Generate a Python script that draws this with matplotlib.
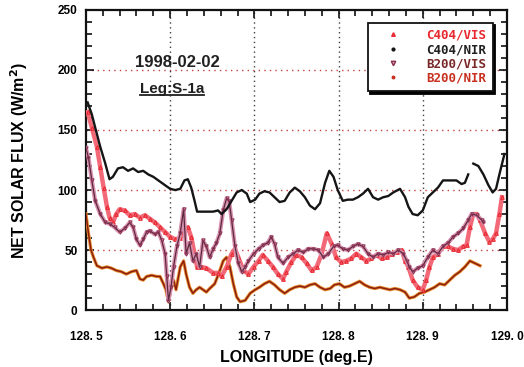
import matplotlib
matplotlib.use("Agg")
import matplotlib.pyplot as plt
from matplotlib.lines import Line2D
from matplotlib.ticker import MultipleLocator, FuncFormatter
import numpy as np

plt.rcParams['font.family'] = ['Liberation Sans', 'DejaVu Sans']

# ---- data: net solar flux (W/m^2) vs longitude (deg E) ----
lon_c404_vis = [128.502, 128.507, 128.513, 128.517, 128.521, 128.525, 128.528, 128.532, 128.536, 128.540,
                128.546, 128.552, 128.558, 128.564, 128.570, 128.576, 128.582, 128.588, 128.594, 128.600,
                128.606, 128.612, 128.617, 128.621, 128.625, 128.629, 128.632, 128.637, 128.643, 128.651,
                128.657, 128.661, 128.667, 128.673, 128.677, 128.681, 128.687, 128.693, 128.699, 128.705,
                128.710, 128.716, 128.722, 128.728, 128.734, 128.738, 128.744, 128.750, 128.756, 128.762,
                128.768, 128.774, 128.780, 128.786, 128.792, 128.797, 128.803, 128.809, 128.815, 128.821,
                128.827, 128.833, 128.839, 128.845, 128.851, 128.857, 128.863, 128.869, 128.875, 128.879,
                128.883, 128.888, 128.894, 128.900, 128.904, 128.908, 128.912, 128.918, 128.924, 128.930,
                128.936, 128.942, 128.948, 128.952, 128.956, 128.960, 128.964, 128.968, 128.974, 128.979,
                128.983, 128.987, 128.991, 128.994]
flux_c404_vis = [165, 152, 136, 119, 102, 86, 77, 73, 80, 84,
                 83, 79, 80, 77, 79, 76, 73, 69, 65, 61,
                 59, 60, 65, 69, 61, 47, 36, 36, 35, 31,
                 31, 28, 36, 47, 51, 44, 33, 30, 36, 41,
                 46, 41, 36, 30, 26, 32, 40, 46, 44, 39,
                 33, 36, 47, 64, 55, 44, 40, 41, 43, 47,
                 44, 41, 43, 46, 43, 44, 47, 48, 50, 41,
                 36, 25, 19, 17, 25, 36, 44, 47, 53, 53,
                 51, 50, 53, 54, 69, 80, 80, 75, 64, 57,
                 59, 64, 80, 94]

lon_c404_nir = [128.502, 128.507, 128.511, 128.517, 128.523, 128.528, 128.532, 128.538, 128.544,
                128.550, 128.556, 128.562, 128.568, 128.574, 128.580, 128.586, 128.592, 128.600, 128.606,
                128.612, 128.617, 128.621, 128.625, 128.629, 128.632, 128.637, 128.643, 128.651, 128.657,
                128.661, 128.667, 128.673, 128.679, 128.685, 128.691, 128.695, 128.701, 128.706, 128.712,
                128.718, 128.724, 128.730, 128.736, 128.742, 128.748, 128.754, 128.760, 128.766, 128.772,
                128.778, 128.784, 128.789, 128.794, 128.799, 128.805, 128.811, 128.817, 128.823, 128.829,
                128.835, 128.841, 128.847, 128.853, 128.859, 128.865, 128.873, 128.879, 128.883, 128.888,
                128.894, 128.900, 128.906, 128.912, 128.918, 128.924, 128.932, 128.940, 128.946, 128.950,
                128.954, 128.957, 128.960, 128.966, 128.972, 128.978, 128.983, 128.987, 128.991, 128.997]
flux_c404_nir = [173, 163, 152, 136, 122, 109, 111, 118, 119,
                 116, 118, 115, 116, 113, 111, 108, 105, 101, 100,
                 101, 108, 109, 102, 91, 82, 82, 82, 82, 83,
                 80, 84, 91, 98, 100, 97, 90, 92, 97, 99,
                 98, 94, 90, 91, 98, 102, 99, 94, 87, 84,
                 89, 106, 116, 111, 100, 91, 92, 92, 94, 97,
                 101, 94, 92, 94, 95, 98, 101, 94, 86, 80,
                 79, 83, 94, 98, 102, 108, 108, 108, 105, 106,
                 113, np.nan, 122, 120, 113, 104, 98, 101, 113, 130]

lon_b200_vis = [128.500, 128.503, 128.507, 128.511, 128.517, 128.523, 128.528, 128.534, 128.540, 128.546,
                128.552, 128.556, 128.560, 128.564, 128.568, 128.572, 128.576, 128.582, 128.586, 128.590,
                128.594, 128.596, 128.598, 128.601, 128.604, 128.608, 128.612, 128.616, 128.619, 128.623,
                128.627, 128.631, 128.635, 128.639, 128.643, 128.647, 128.651, 128.655, 128.659, 128.663,
                128.667, 128.670, 128.673, 128.677, 128.681, 128.685, 128.689, 128.693, 128.699, 128.705,
                128.710, 128.716, 128.720, 128.724, 128.728, 128.734, 128.740, 128.746, 128.752, 128.758,
                128.764, 128.770, 128.776, 128.782, 128.788, 128.794, 128.799, 128.805, 128.811, 128.817,
                128.823, 128.829, 128.835, 128.841, 128.847, 128.853, 128.859, 128.865, 128.871, 128.877,
                128.881, 128.884, 128.888, 128.894, 128.900, 128.906, 128.912, 128.918, 128.924, 128.930,
                128.936, 128.942, 128.948, 128.954, 128.958, 128.964, 128.970, 128.972]
flux_b200_vis = [135, 127, 108, 91, 80, 73, 72, 69, 65, 68,
                 73, 69, 59, 54, 59, 65, 66, 63, 65, 58,
                 47, 28, 8, 19, 36, 53, 64, 84, 47, 56,
                 41, 47, 36, 58, 53, 44, 51, 56, 64, 83,
                 93, 91, 75, 53, 39, 32, 36, 41, 47, 51,
                 54, 56, 61, 55, 44, 39, 44, 47, 50, 48,
                 51, 51, 50, 44, 47, 53, 54, 51, 50, 53,
                 55, 53, 47, 44, 47, 46, 48, 47, 50, 47,
                 41, 36, 32, 35, 37, 44, 50, 47, 53, 56,
                 61, 64, 68, 75, 80, 79, 75, 73]

lon_b200_nir = [128.500, 128.503, 128.506, 128.509, 128.513, 128.519, 128.525, 128.530, 128.536, 128.542,
                128.548, 128.554, 128.560, 128.564, 128.568, 128.572, 128.578, 128.584, 128.588, 128.592,
                128.595, 128.598, 128.601, 128.604, 128.607, 128.612, 128.616, 128.619, 128.623, 128.627,
                128.631, 128.635, 128.639, 128.643, 128.647, 128.653, 128.659, 128.663, 128.667, 128.671,
                128.675, 128.679, 128.683, 128.689, 128.695, 128.701, 128.706, 128.712, 128.718, 128.724,
                128.730, 128.736, 128.742, 128.748, 128.754, 128.760, 128.766, 128.772, 128.778, 128.784,
                128.790, 128.795, 128.801, 128.807, 128.813, 128.819, 128.825, 128.831, 128.837, 128.843,
                128.849, 128.855, 128.861, 128.867, 128.873, 128.879, 128.884, 128.890, 128.896, 128.902,
                128.908, 128.914, 128.920, 128.926, 128.932, 128.938, 128.944, 128.950, 128.956, 128.962,
                128.968]
flux_b200_nir = [80, 64, 50, 44, 37, 35, 36, 35, 33, 32,
                 30, 32, 33, 26, 25, 28, 29, 28, 28, 22,
                 17, 7, 19, 25, 17, 36, 41, 30, 19, 14,
                 17, 19, 17, 15, 18, 22, 33, 41, 44, 36,
                 22, 11, 7, 8, 14, 17, 19, 22, 24, 21,
                 17, 14, 17, 19, 20, 19, 21, 22, 19, 17,
                 18, 21, 22, 19, 20, 22, 24, 21, 19, 18,
                 19, 18, 17, 18, 17, 15, 10, 11, 14, 15,
                 17, 19, 22, 21, 25, 29, 32, 36, 41, 39,
                 37]

series_names = ["C404/VIS", "C404/NIR", "B200/VIS", "B200/NIR"]
x_ticks = [128.5, 128.6, 128.7, 128.8, 128.9, 129.0]
y_ticks = [0, 50, 100, 150, 200, 250]

# ---- figure ----
fig = plt.figure(figsize=(5.24, 3.67), dpi=100)
ax = fig.add_axes([0.164, 0.155, 0.8035, 0.818])

# grid: red dotted horizontals, dark dotted verticals
for yv in y_ticks[1:-1]:
    ax.axhline(yv, color='#c84040', ls=(0, (1, 3)), lw=1.0, zorder=1)
for xv in x_ticks[1:-1]:
    ax.axvline(xv, color='#404040', ls=(0, (1, 2.5)), lw=1.0, zorder=1)

# B200/NIR: dark red trace with orange fringe
ax.plot(lon_b200_nir, flux_b200_nir, color='#e89030', lw=2.4, zorder=3, solid_joinstyle='round')
ax.plot(lon_b200_nir, flux_b200_nir, color='#8a1c10', lw=1.1, zorder=4, solid_joinstyle='round')

# C404/VIS: red band of triangles
ax.plot(lon_c404_vis, flux_c404_vis, color='#f26a78', lw=3.2, zorder=5, solid_joinstyle='round')
ax.plot(lon_c404_vis, flux_c404_vis, ls='none', marker='^', ms=2.6, mfc='none',
        mec='#e82830', mew=0.8, zorder=6)

# B200/VIS: mauve band with dark down-triangles
ax.plot(lon_b200_vis, flux_b200_vis, color='#d890b0', lw=3.0, zorder=7, solid_joinstyle='round')
ax.plot(lon_b200_vis, flux_b200_vis, color='#5a2838', lw=0.9, zorder=8, solid_joinstyle='round')
ax.plot(lon_b200_vis, flux_b200_vis, ls='none', marker='v', ms=2.4, mfc='none',
        mec='#8a3050', mew=0.7, zorder=8)

# C404/NIR: black trace
ax.plot(lon_c404_nir, flux_c404_nir, color='#151515', lw=1.7, zorder=9, solid_joinstyle='round')

# ---- axes ----
ax.set_xlim(128.5, 129.0)
ax.set_ylim(0, 250)
ax.set_xticks(x_ticks)
ax.set_yticks(y_ticks)
ax.xaxis.set_minor_locator(MultipleLocator(0.02))
ax.yaxis.set_minor_locator(MultipleLocator(10))
ax.xaxis.set_major_formatter(FuncFormatter(lambda v, _: f"{v:.1f}".replace('.', '. ')))
ax.tick_params(which='both', direction='in', top=True, right=True, width=1.2, color='#111111')
ax.tick_params(which='major', length=6, pad=6, labelsize=8.5)
ax.tick_params(which='minor', length=4)
ax.tick_params(axis='x', which='major', pad=15)
for lab in ax.get_xticklabels() + ax.get_yticklabels():
    lab.set_fontweight('bold')
for sp in ax.spines.values():
    sp.set_linewidth(1.6)
    sp.set_color('#111111')

ax.set_xlabel("LONGITUDE (deg.E)", fontsize=11.5, fontweight='bold', labelpad=5)
ax.set_ylabel("NET SOLAR FLUX (W/m$^\\mathbf{2}$)", fontsize=11.5, fontweight='bold', labelpad=20)

# annotation: date and leg
ax.text(128.608, 206, "1998-02-02", fontsize=12, fontweight='bold', ha='center', va='center',
        color='#202020', zorder=10)
leg_txt = ax.text(128.602, 184, "Leg:S-1a", fontsize=11, fontweight='bold', ha='center',
                  va='center', color='#202020', zorder=10)
fig.canvas.draw()
bb = leg_txt.get_window_extent().transformed(ax.transAxes.inverted())
ax.add_line(Line2D([bb.x0, bb.x1], [bb.y0 + 0.004, bb.y0 + 0.004], transform=ax.transAxes,
                   color='#202020', lw=1.3, zorder=10))

# legend
handles = [
    Line2D([], [], ls='none', marker='^', ms=2.6, mfc='#f05060', mec='#e82830'),
    Line2D([], [], ls='none', marker='o', ms=2.0, mfc='#151515', mec='#151515'),
    Line2D([], [], ls='none', marker='v', ms=3.2, mfc='#e0a0b8', mec='#8a3050'),
    Line2D([], [], ls='none', marker='o', ms=1.8, mfc='#c83020', mec='#c83020'),
]
leg = ax.legend(handles, series_names, loc='upper right', bbox_to_anchor=(0.966, 0.958),
                frameon=True, fancybox=False, shadow={'color': 'black', 'alpha': 1.0},
                edgecolor='#111111', framealpha=1.0, handlelength=3.0, handletextpad=1.2,
                borderpad=0.5, labelspacing=0.1, borderaxespad=0.0,
                prop={'family': 'DejaVu Sans Mono', 'weight': 'bold', 'size': 9})
leg.get_frame().set_linewidth(1.3)
leg.set_zorder(20)
for txt, c in zip(leg.get_texts(), ['#e82830', '#202020', '#7a2828', '#c83020']):
    txt.set_color(c)

fig.savefig("out.png", dpi=100)
